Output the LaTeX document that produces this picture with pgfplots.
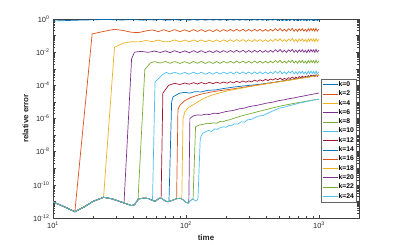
\documentclass[border=0pt]{standalone}
\usepackage{pgfplots}
\pgfplotsset{compat=1.18}
\usepackage{pgfplotstable}
\usepackage{fontspec}
\setmainfont{Liberation Sans}
\definecolor{c1}{rgb}{0,0.447,0.741}
\definecolor{c2}{rgb}{0.85,0.325,0.098}
\definecolor{c3}{rgb}{0.929,0.694,0.125}
\definecolor{c4}{rgb}{0.494,0.184,0.556}
\definecolor{c5}{rgb}{0.466,0.674,0.188}
\definecolor{c6}{rgb}{0.301,0.745,0.933}
\definecolor{c7}{rgb}{0.635,0.078,0.184}
\pgfplotstableread{
t k0 k2 k4 k6 k8 k10 k12
82 0.933 2.29e-1 5.50e-2 1.23e-2 2.75e-3 6.17e-4 1.32e-4
90 0.851 1.74e-1 4.17e-2 9.33e-3 2.09e-3 4.68e-4 1.12e-4
98 0.933 2.24e-1 5.37e-2 1.20e-2 2.69e-3 6.03e-4 1.38e-4
106 0.851 1.74e-1 4.17e-2 9.33e-3 2.09e-3 4.68e-4 1.17e-4
114 0.933 2.29e-1 5.50e-2 1.23e-2 2.75e-3 6.17e-4 1.45e-4
122 0.851 1.78e-1 4.27e-2 9.55e-3 2.14e-3 4.79e-4 1.20e-4
130 0.933 2.29e-1 5.50e-2 1.23e-2 2.75e-3 6.17e-4 1.48e-4
140 0.851 1.74e-1 4.17e-2 9.33e-3 2.09e-3 4.68e-4 1.23e-4
150 0.933 2.24e-1 5.37e-2 1.20e-2 2.69e-3 6.03e-4 1.51e-4
160 0.851 1.74e-1 4.17e-2 9.33e-3 2.09e-3 4.68e-4 1.26e-4
170 0.933 2.29e-1 5.50e-2 1.23e-2 2.75e-3 6.17e-4 1.55e-4
180 0.851 1.78e-1 4.27e-2 9.55e-3 2.14e-3 4.79e-4 1.32e-4
192 0.933 2.29e-1 5.50e-2 1.23e-2 2.75e-3 6.17e-4 1.58e-4
204 0.851 1.82e-1 4.37e-2 9.77e-3 2.19e-3 4.90e-4 1.35e-4
216 0.933 2.34e-1 5.62e-2 1.26e-2 2.82e-3 6.31e-4 1.66e-4
228 0.851 1.82e-1 4.37e-2 9.77e-3 2.19e-3 4.90e-4 1.41e-4
240 0.933 2.40e-1 5.75e-2 1.29e-2 2.88e-3 6.46e-4 1.74e-4
254 0.851 1.86e-1 4.47e-2 1.00e-2 2.24e-3 5.01e-4 1.48e-4
268 0.933 2.40e-1 5.75e-2 1.29e-2 2.88e-3 6.46e-4 1.82e-4
282 0.851 1.82e-1 4.37e-2 9.77e-3 2.19e-3 4.90e-4 1.55e-4
296 0.933 2.34e-1 5.62e-2 1.26e-2 2.82e-3 6.31e-4 1.86e-4
312 0.851 1.82e-1 4.37e-2 9.77e-3 2.19e-3 4.90e-4 1.62e-4
328 0.933 2.40e-1 5.75e-2 1.29e-2 2.88e-3 6.46e-4 2.04e-4
344 0.851 1.86e-1 4.47e-2 1.00e-2 2.24e-3 5.01e-4 1.74e-4
360 0.933 2.40e-1 5.75e-2 1.29e-2 2.88e-3 6.46e-4 2.14e-4
378 0.851 1.82e-1 4.37e-2 9.77e-3 2.19e-3 4.90e-4 1.82e-4
396 0.933 2.34e-1 5.62e-2 1.26e-2 2.82e-3 6.31e-4 2.29e-4
414 0.851 1.82e-1 4.37e-2 9.77e-3 2.19e-3 4.90e-4 1.95e-4
432 0.933 2.40e-1 5.75e-2 1.29e-2 2.88e-3 6.46e-4 2.40e-4
450 0.851 1.86e-1 4.47e-2 1.00e-2 2.24e-3 5.01e-4 2.09e-4
470 0.953 2.63e-1 6.31e-2 1.41e-2 3.16e-3 7.08e-4 2.57e-4
490 0.824 1.95e-1 4.68e-2 1.05e-2 2.34e-3 5.25e-4 2.19e-4
510 0.966 2.69e-1 6.46e-2 1.45e-2 3.24e-3 7.24e-4 2.75e-4
530 0.802 1.86e-1 4.47e-2 1.00e-2 2.24e-3 5.01e-4 2.19e-4
550 0.908 2.40e-1 5.75e-2 1.29e-2 2.88e-3 6.46e-4 2.63e-4
570 0.791 1.82e-1 4.37e-2 9.77e-3 2.19e-3 4.90e-4 2.24e-4
590 0.940 2.57e-1 6.17e-2 1.38e-2 3.09e-3 6.92e-4 2.88e-4
610 0.841 2.04e-1 4.90e-2 1.10e-2 2.45e-3 5.50e-4 2.57e-4
630 0.973 2.75e-1 6.61e-2 1.48e-2 3.31e-3 7.41e-4 3.16e-4
650 0.796 1.82e-1 4.37e-2 9.77e-3 2.19e-3 4.90e-4 2.51e-4
670 0.927 2.45e-1 5.89e-2 1.32e-2 2.95e-3 6.61e-4 3.16e-4
690 0.785 1.78e-1 4.27e-2 9.55e-3 2.14e-3 4.79e-4 2.57e-4
710 0.946 2.57e-1 6.17e-2 1.38e-2 3.09e-3 6.92e-4 3.39e-4
730 0.818 1.95e-1 4.68e-2 1.05e-2 2.34e-3 5.25e-4 2.82e-4
750 0.959 2.63e-1 6.31e-2 1.41e-2 3.16e-3 7.08e-4 3.63e-4
770 0.807 1.86e-1 4.47e-2 1.00e-2 2.24e-3 5.01e-4 2.95e-4
790 0.914 2.40e-1 5.75e-2 1.29e-2 2.88e-3 6.46e-4 3.55e-4
810 0.780 1.74e-1 4.17e-2 9.33e-3 2.09e-3 4.68e-4 2.95e-4
830 0.953 2.63e-1 6.31e-2 1.41e-2 3.16e-3 7.08e-4 3.89e-4
850 0.813 1.91e-1 4.57e-2 1.02e-2 2.29e-3 5.13e-4 3.24e-4
870 0.966 2.69e-1 6.46e-2 1.45e-2 3.24e-3 7.24e-4 4.17e-4
890 0.824 1.95e-1 4.68e-2 1.05e-2 2.34e-3 5.25e-4 3.47e-4
910 0.940 2.57e-1 6.17e-2 1.38e-2 3.09e-3 6.92e-4 4.17e-4
930 0.791 1.82e-1 4.37e-2 9.77e-3 2.19e-3 4.90e-4 3.31e-4
950 0.973 2.75e-1 6.61e-2 1.48e-2 3.31e-3 7.41e-4 4.47e-4
970 0.802 1.86e-1 4.47e-2 1.00e-2 2.24e-3 5.01e-4 3.47e-4
1000 0.920 2.45e-1 5.89e-2 1.32e-2 2.95e-3 6.61e-4 4.27e-4
}\tabA
\begin{document}
\begin{tikzpicture}
\useasboundingbox (0,0) rectangle (397bp,245bp);
\begin{axis}[
 at={(53bp,27bp)}, anchor=south west,
 width=306bp, height=199bp, scale only axis,
 xmode=log, ymode=log,
 xmin=10, xmax=2000, ymin=1e-12, ymax=1,
 xtick={10,100,1000},
 xticklabels={10\textsuperscript{1},10\textsuperscript{2},10\textsuperscript{3}},
 ytick={1e-12,1e-11,1e-10,1e-9,1e-8,1e-7,1e-6,1e-5,1e-4,1e-3,1e-2,1e-1,1},
 yticklabels={10\textsuperscript{-12},,10\textsuperscript{-10},,10\textsuperscript{-8},,10\textsuperscript{-6},,10\textsuperscript{-4},,10\textsuperscript{-2},,10\textsuperscript{0}},
 tick align=inside,
 major tick length=3bp, minor tick length=1.6bp,
 axis line style={black!75, line width=0.5bp},
 tick style={black!75, line width=0.4bp},
 every axis plot/.append style={line width=0.7bp},
 tick label style={font=\fontsize{7.5}{8}\selectfont, text=black!85},
 xlabel={time}, ylabel={relative error},
 label style={font=\fontsize{8}{9}\selectfont\bfseries, text=black!85},
 xlabel style={at={(axis description cs:0.5,-0.1)}, anchor=center},
 ylabel style={at={(axis description cs:-0.09,0.5)}, anchor=center},
 legend style={at={(0.99,0.698)}, anchor=north east, draw=black!60, line width=0.4bp,
   font=\fontsize{6.8}{7}\selectfont\bfseries, inner xsep=1bp, inner ysep=0.8bp,
   nodes={inner xsep=0.8bp, inner ysep=1.45bp}, row sep=0bp},
 legend cell align=left,
 legend image code/.code={\draw[#1,line width=0.7bp] (0bp,0bp) -- (15bp,0bp);},
]
% k=0
\addplot[c1, forget plot] coordinates {(10,0.759) (12,0.794) (14,0.832) (17,0.871) (20,0.891) (24,0.933) (28,0.912) (33,0.871) (38,0.912) (43,0.891) (48,0.851) (53,0.912) (58,0.871) (64,0.933) (70,0.851) (76,0.871) (82,0.933)};
\addplot[c1] table[x=t,y=k0]{\tabA}; \addlegendentry{k=0}
% k=2
\addplot[c2, forget plot] coordinates {(10,9.3e-12) (12,5.0e-12) (14.6,2.4e-12) (19.7,0.126) (24,0.178) (29,0.240) (34,0.2) (39,0.158) (44,0.151) (50,0.191) (56,0.219) (62,0.174) (68,0.224) (75,0.174) (82,0.229)};
\addplot[c2] table[x=t,y=k2]{\tabA}; \addlegendentry{k=2}
% k=4
\addplot[c3, forget plot] coordinates {(10,9.3e-12) (12,5.0e-12) (14.6,2.4e-12) (17,4.47e-12) (20,1.0e-11) (24,1.78e-11) (29,2.0e-2) (34,3.55e-2) (39,4.27e-2) (44,4.17e-2) (50,5.01e-2) (56,4.37e-2) (62,5.37e-2) (68,4.27e-2) (75,4.27e-2) (82,5.50e-2)};
\addplot[c3] table[x=t,y=k4]{\tabA}; \addlegendentry{k=4}
% k=6
\addplot[c4, forget plot] coordinates {(10,9.3e-12) (12,5.0e-12) (14.6,2.4e-12) (17,4.47e-12) (20,1.0e-11) (24,1.78e-11) (28,1.41e-11) (33,8.9e-12) (34.2,8.2e-12) (39,3.98e-3) (41,1.0e-2) (46,1.12e-2) (52,9.77e-3) (58,1.17e-2) (64,9.55e-3) (70,1.2e-2) (76,9.33e-3) (82,1.23e-2)};
\addplot[c4] table[x=t,y=k6]{\tabA}; \addlegendentry{k=6}
% k=8
\addplot[c5, forget plot] coordinates {(10,9.3e-12) (12,5.0e-12) (14.6,2.4e-12) (17,4.47e-12) (20,1.0e-11) (24,1.78e-11) (28,1.41e-11) (33,8.9e-12) (39,5.6e-12) (41,6.3e-12) (43.6,1.3e-11) (49,8.9e-4) (54,2.24e-3) (58,2.69e-3) (64,2.19e-3) (70,2.75e-3) (76,2.14e-3) (82,2.75e-3)};
\addplot[c5] table[x=t,y=k8]{\tabA}; \addlegendentry{k=8}
% k=10
\addplot[c6, forget plot] coordinates {(10,9.3e-12) (12,5.0e-12) (14.6,2.4e-12) (17,4.47e-12) (20,1.0e-11) (24,1.78e-11) (28,1.41e-11) (33,8.9e-12) (39,5.6e-12) (41,6.3e-12) (44,1.41e-11) (48,1.58e-11) (52,1.51e-11) (56,1.12e-11) (58.5,1.58e-4) (66,4.17e-4) (71,6.03e-4) (76,4.79e-4) (82,6.17e-4)};
\addplot[c6] table[x=t,y=k10]{\tabA}; \addlegendentry{k=10}
% k=12
\addplot[c7, forget plot] coordinates {(10,9.3e-12) (12,5.0e-12) (14.6,2.4e-12) (17,4.47e-12) (20,1.0e-11) (24,1.78e-11) (28,1.41e-11) (33,8.9e-12) (39,5.6e-12) (41,6.3e-12) (44,1.41e-11) (48,1.58e-11) (52,1.51e-11) (56,1.12e-11) (59,1.05e-11) (63,1.58e-11) (65,1.55e-11) (67,3.39e-5) (74,1.0e-4) (82,1.32e-4)};
\addplot[c7] table[x=t,y=k12]{\tabA}; \addlegendentry{k=12}
% k=14
\addplot[c1] coordinates {(10,9.3e-12) (12,5.0e-12) (14.6,2.4e-12) (17,4.47e-12) (20,1.0e-11) (24,1.78e-11) (28,1.41e-11) (33,8.9e-12) (39,5.6e-12) (41,6.3e-12) (44,1.41e-11) (48,1.58e-11) (52,1.51e-11) (56,1.12e-11) (59,1.05e-11) (63,1.58e-11) (66,1.51e-11) (69,1.12e-11) (73,9.5e-12) (74.5,1.0e-11) (78,1.02e-5) (80,2.04e-5) (89,3.31e-5) (98,3.80e-5) (107,3.39e-5) (117,4.17e-5) (130,3.98e-5) (146,5.01e-5) (165,5.25e-5) (196,6.61e-5) (230,7.94e-5) (270,9.12e-5) (330,1.07e-4) (400,1.29e-4) (500,1.70e-4) (600,2.14e-4) (700,2.63e-4) (800,3.09e-4) (900,3.63e-4) (1000,4.17e-4)};
\addlegendentry{k=14}
% k=16
\addplot[c2] coordinates {(10,9.3e-12) (12,5.0e-12) (14.6,2.4e-12) (17,4.47e-12) (20,1.0e-11) (24,1.78e-11) (28,1.41e-11) (33,8.9e-12) (39,5.6e-12) (41,6.3e-12) (44,1.41e-11) (48,1.58e-11) (52,1.51e-11) (56,1.12e-11) (59,1.05e-11) (63,1.58e-11) (66,1.51e-11) (69,1.12e-11) (73,9.5e-12) (78,1.12e-11) (84,1.41e-11) (85,1.44e-11) (87,3.55e-6) (90,6.31e-6) (98,1.20e-5) (110,1.91e-5) (127,2.82e-5) (150,3.80e-5) (180,4.79e-5) (214,5.75e-5) (255,7.08e-5) (300,8.71e-5) (400,1.26e-4) (500,1.66e-4) (600,2.09e-4) (700,2.57e-4) (800,3.02e-4) (900,3.55e-4) (1000,4.07e-4)};
\addlegendentry{k=16}
% k=18
\addplot[c3] coordinates {(10,9.3e-12) (12,5.0e-12) (14.6,2.4e-12) (17,4.47e-12) (20,1.0e-11) (24,1.78e-11) (28,1.41e-11) (33,8.9e-12) (39,5.6e-12) (41,6.3e-12) (44,1.41e-11) (48,1.58e-11) (52,1.51e-11) (56,1.12e-11) (59,1.05e-11) (63,1.58e-11) (66,1.51e-11) (69,1.12e-11) (73,9.5e-12) (78,1.12e-11) (84,1.41e-11) (90,1.58e-11) (93,1.37e-11) (95,1.0e-6) (98,2.51e-6) (104,4.47e-6) (117,7.94e-6) (135,1.58e-5) (155,2.51e-5) (180,3.55e-5) (214,5.01e-5) (255,6.46e-5) (300,8.32e-5) (400,1.23e-4) (500,1.62e-4) (600,2.04e-4) (700,2.51e-4) (800,2.95e-4) (900,3.47e-4) (1000,3.98e-4)};
\addlegendentry{k=18}
% k=20
\addplot[c4] coordinates {(10,9.3e-12) (12,5.0e-12) (14.6,2.4e-12) (17,4.47e-12) (20,1.0e-11) (24,1.78e-11) (28,1.41e-11) (33,8.9e-12) (39,5.6e-12) (41,6.3e-12) (44,1.41e-11) (48,1.58e-11) (52,1.51e-11) (56,1.12e-11) (59,1.05e-11) (63,1.58e-11) (66,1.51e-11) (69,1.12e-11) (73,9.5e-12) (78,1.12e-11) (84,1.41e-11) (90,1.58e-11) (95,1.26e-11) (100,8.9e-12) (104,7.9e-12) (105,8.6e-12) (107,1.0e-6) (113,1.41e-6) (122,1.66e-6) (130,1.58e-6) (140,1.82e-6) (150,1.74e-6) (162,2.09e-6) (175,2.0e-6) (200,2.63e-6) (225,3.02e-6) (250,3.80e-6) (275,4.27e-6) (300,5.25e-6) (350,6.46e-6) (400,8.32e-6) (450,9.77e-6) (500,1.20e-5) (550,1.35e-5) (600,1.58e-5) (650,1.74e-5) (700,2.0e-5) (750,2.19e-5) (800,2.45e-5) (850,2.69e-5) (900,2.95e-5) (950,3.16e-5) (1000,3.47e-5)};
\addlegendentry{k=20}
% k=22
\addplot[c5] coordinates {(10,9.3e-12) (12,5.0e-12) (14.6,2.4e-12) (17,4.47e-12) (20,1.0e-11) (24,1.78e-11) (28,1.41e-11) (33,8.9e-12) (39,5.6e-12) (41,6.3e-12) (44,1.41e-11) (48,1.58e-11) (52,1.51e-11) (56,1.12e-11) (59,1.05e-11) (63,1.58e-11) (66,1.51e-11) (69,1.12e-11) (73,9.5e-12) (78,1.12e-11) (84,1.41e-11) (90,1.58e-11) (95,1.26e-11) (100,8.9e-12) (104,7.9e-12) (108,1.12e-11) (113,1.41e-11) (118,3.16e-7) (125,3.98e-7) (135,4.47e-7) (145,5.25e-7) (152,4.79e-7) (160,5.50e-7) (170,5.13e-7) (180,6.61e-7) (190,6.31e-7) (200,7.59e-7) (215,8.51e-7) (230,1.05e-6) (260,1.41e-6) (290,1.78e-6) (350,2.63e-6) (420,3.80e-6) (500,5.37e-6) (600,7.24e-6) (700,9.12e-6) (800,1.10e-5) (900,1.29e-5) (1000,1.45e-5)};
\addlegendentry{k=22}
% k=24
\addplot[c6] coordinates {(10,9.3e-12) (12,5.0e-12) (14.6,2.4e-12) (17,4.47e-12) (20,1.0e-11) (24,1.78e-11) (28,1.41e-11) (33,8.9e-12) (39,5.6e-12) (41,6.3e-12) (44,1.41e-11) (48,1.58e-11) (52,1.51e-11) (56,1.12e-11) (59,1.05e-11) (63,1.58e-11) (66,1.51e-11) (69,1.12e-11) (73,9.5e-12) (78,1.12e-11) (84,1.41e-11) (90,1.58e-11) (95,1.26e-11) (100,8.9e-12) (104,7.9e-12) (108,1.12e-11) (113,1.41e-11) (117,1.12e-11) (120,1.05e-11) (123,1.41e-11) (128,6.31e-8) (133,1.26e-7) (140,1.58e-7) (148,1.91e-7) (155,1.66e-7) (165,2.40e-7) (172,2.19e-7) (178,2.63e-7) (190,3.16e-7) (200,2.95e-7) (210,3.80e-7) (220,3.63e-7) (230,4.79e-7) (245,4.57e-7) (260,6.31e-7) (275,6.03e-7) (290,8.32e-7) (310,8.91e-7) (350,1.41e-6) (380,1.51e-6) (420,2.24e-6) (460,3.09e-6) (500,4.17e-6) (550,4.79e-6) (600,6.03e-6) (650,6.92e-6) (700,8.32e-6) (750,9.12e-6) (800,1.05e-5) (850,1.15e-5) (900,1.26e-5) (950,1.38e-5) (1000,1.45e-5)};
\addlegendentry{k=24}
\end{axis}
\end{tikzpicture}
\end{document}
